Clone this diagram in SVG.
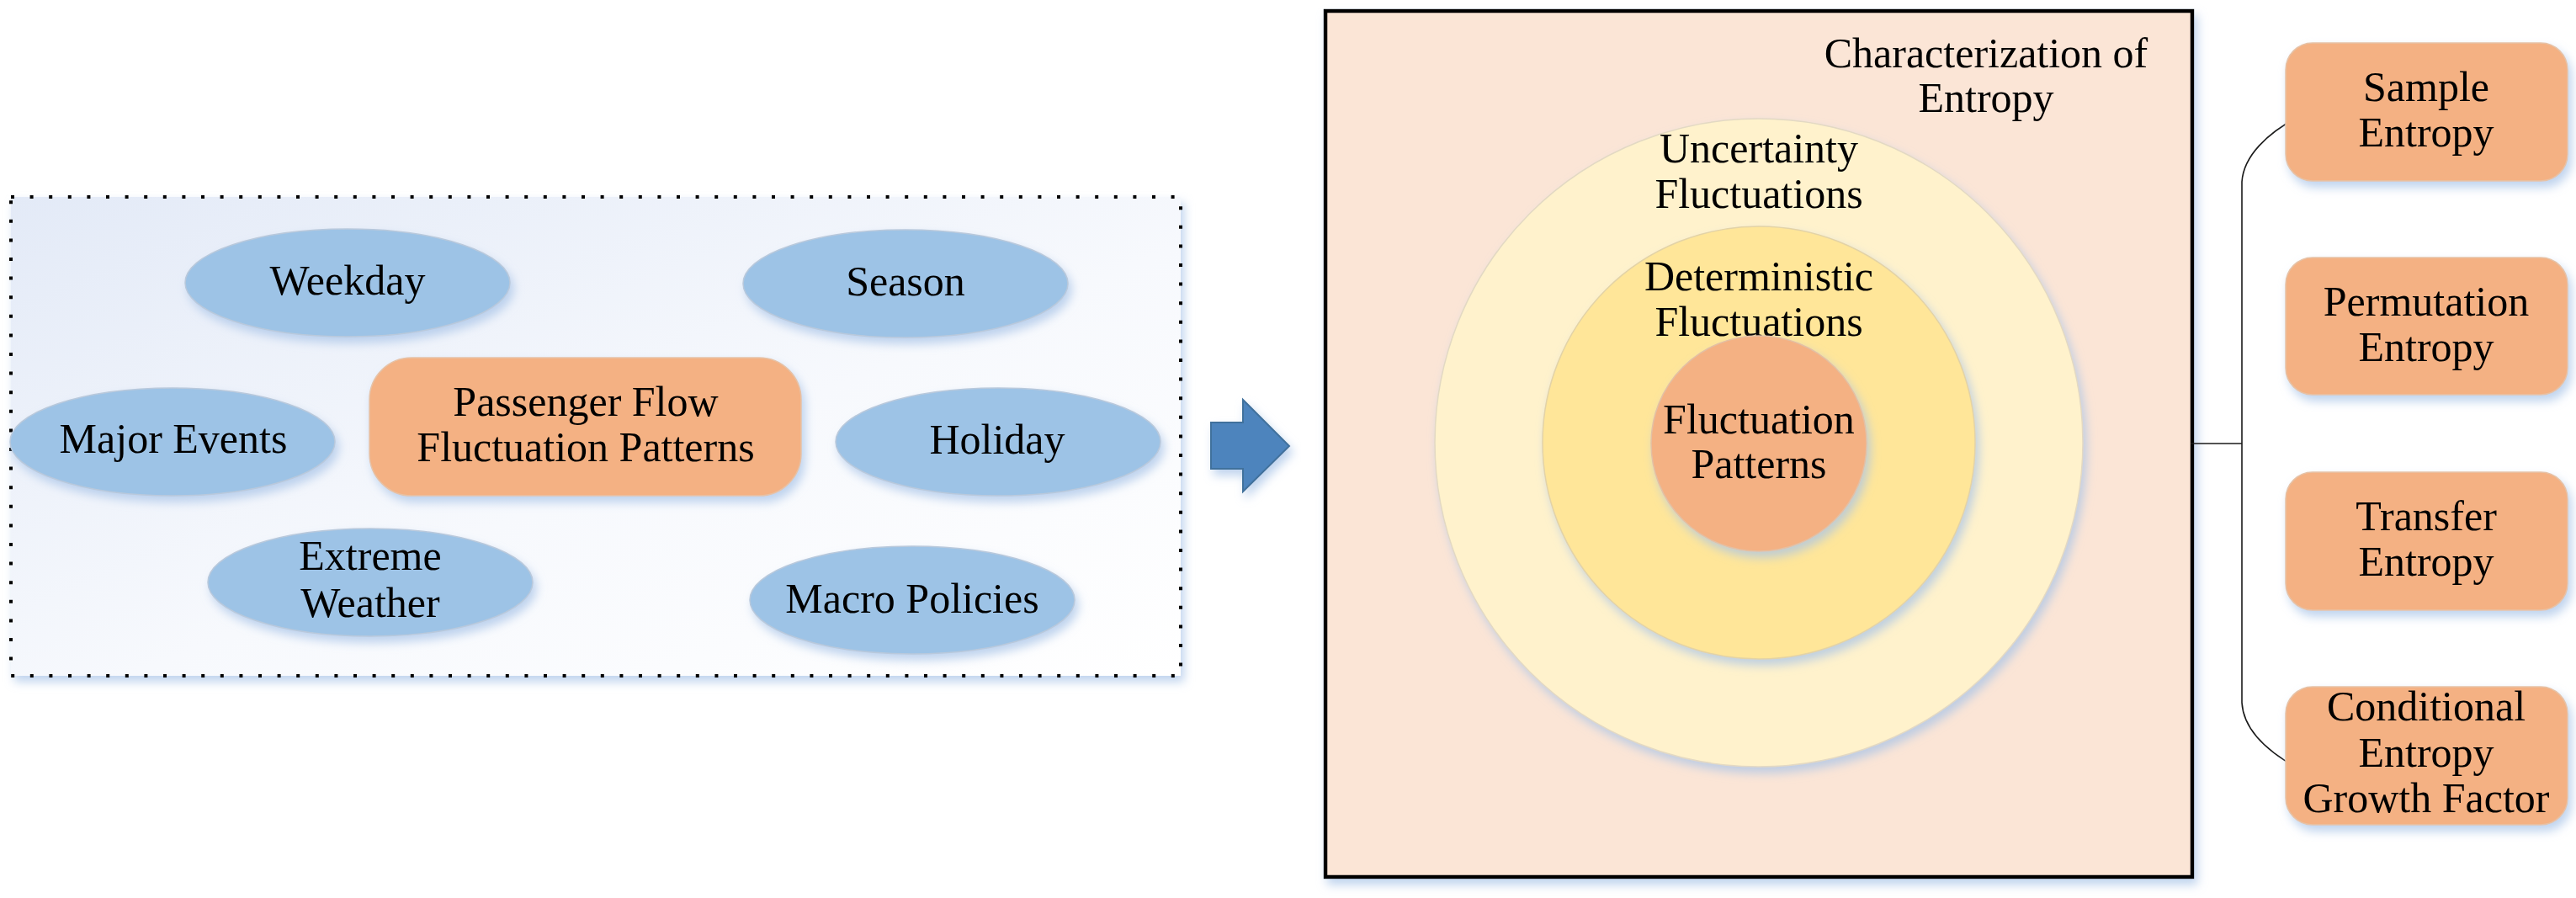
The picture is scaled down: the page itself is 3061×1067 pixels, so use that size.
<svg xmlns="http://www.w3.org/2000/svg" width="3061" height="1067" viewBox="0 0 3061 1067">
<defs>
<linearGradient id="bgGrad" x1="0" y1="0" x2="1" y2="1">
<stop offset="0" stop-color="#e3eaf7"/>
<stop offset="0.55" stop-color="#f7f9fd"/>
<stop offset="1" stop-color="#ffffff"/>
</linearGradient>
<filter id="shadow" x="-10%" y="-10%" width="125%" height="130%">
<feFlood flood-color="#a9c4e8" flood-opacity="0.75" result="c"/>
<feComposite in="c" in2="SourceAlpha" operator="in" result="s"/>
<feOffset in="s" dx="4" dy="7" result="o"/>
<feGaussianBlur in="o" stdDeviation="6" result="b"/>
<feMerge><feMergeNode in="b"/><feMergeNode in="SourceGraphic"/></feMerge>
</filter>
</defs>
<style>
text{font-family:"Liberation Serif","Times New Roman",serif;font-size:50px;fill:#000;text-anchor:middle}
.ell{fill:#9dc3e6;stroke:#b9c9dc;stroke-width:1.5}
.org{fill:#f4b183;stroke:#e6c2a6;stroke-width:1.5}
.con{fill:none;stroke:#1a1a1a;stroke-width:1.6}
</style>
<rect width="3061" height="1067" fill="#ffffff"/>

<g id="factors-panel">
<rect x="13" y="234" width="1390" height="569" fill="url(#bgGrad)" filter="url(#shadow)"/>
<rect x="13" y="234" width="1390" height="569" fill="none" stroke="#000" stroke-width="4" stroke-dasharray="4 18.6"/>
</g>

<g id="weekday"><ellipse class="ell" cx="413" cy="336" rx="193" ry="64" filter="url(#shadow)"/><text x="413" y="350">Weekday</text></g>
<g id="season"><ellipse class="ell" cx="1076" cy="337" rx="193" ry="64" filter="url(#shadow)"/><text x="1076" y="351">Season</text></g>
<g id="major-events"><ellipse class="ell" cx="205" cy="525" rx="193" ry="64" filter="url(#shadow)"/><text x="206" y="538">Major Events</text></g>
<g id="holiday"><ellipse class="ell" cx="1186" cy="525" rx="193" ry="64" filter="url(#shadow)"/><text x="1185" y="539">Holiday</text></g>
<g id="extreme-weather"><ellipse class="ell" cx="440" cy="692" rx="193" ry="64" filter="url(#shadow)"/><text x="440" y="677">Extreme</text><text x="440" y="733">Weather</text></g>
<g id="macro-policies"><ellipse class="ell" cx="1084" cy="713" rx="193" ry="64" filter="url(#shadow)"/><text x="1084" y="728">Macro Policies</text></g>
<g id="passenger-flow"><rect class="org" x="439" y="425" width="513" height="164" rx="50" ry="50" filter="url(#shadow)"/><text x="696" y="494">Passenger Flow</text><text x="696" y="548">Fluctuation Patterns</text></g>

<g id="arrow"><path d="M1439,502 L1477,502 L1477,475 L1532,530 L1477,584 L1477,557 L1439,557 Z" fill="#4d84bd" stroke="#41719c" stroke-width="2" filter="url(#shadow)"/></g>

<g id="entropy-panel">
<rect x="1575" y="13" width="1030" height="1029" fill="#fbe5d6" stroke="#000" stroke-width="4.5" filter="url(#shadow)"/>
<text x="2360" y="80">Characterization of</text>
<text x="2360" y="133">Entropy</text>
</g>
<g id="uncertainty"><circle cx="2090" cy="526" r="385" fill="#fff2cc" stroke="#e3d9c3" stroke-width="1.5" filter="url(#shadow)"/><text x="2090" y="193">Uncertainty</text><text x="2090" y="247">Fluctuations</text></g>
<g id="deterministic"><circle cx="2090" cy="526" r="257" fill="#ffe699" stroke="#e3d3a6" stroke-width="1.5" filter="url(#shadow)"/><text x="2090" y="345">Deterministic</text><text x="2090" y="399">Fluctuations</text></g>
<g id="fluctuation-patterns"><circle cx="2090" cy="527" r="128" fill="#f4b183" stroke="#e3c0a4" stroke-width="1.5" filter="url(#shadow)"/><text x="2090" y="515">Fluctuation</text><text x="2090" y="568">Patterns</text></g>

<g id="connectors">
<path class="con" d="M2603,527 L2664,527"/>
<path class="con" d="M2664,835 L2664,216"/>
<path class="con" d="M2664,216 C2666,185 2695,158 2729,140"/>
<path class="con" d="M2664,835 C2666,868 2695,893 2729,912"/>
</g>

<g id="sample-entropy"><rect class="org" x="2716" y="51" width="335" height="164" rx="32" ry="32" filter="url(#shadow)"/><text x="2883" y="120">Sample</text><text x="2883" y="174">Entropy</text></g>
<g id="permutation-entropy"><rect class="org" x="2716" y="306" width="335" height="163" rx="32" ry="32" filter="url(#shadow)"/><text x="2883" y="375">Permutation</text><text x="2883" y="429">Entropy</text></g>
<g id="transfer-entropy"><rect class="org" x="2716" y="561" width="335" height="164" rx="32" ry="32" filter="url(#shadow)"/><text x="2883" y="630">Transfer</text><text x="2883" y="684">Entropy</text></g>
<g id="conditional-entropy"><rect class="org" x="2716" y="816" width="335" height="164" rx="32" ry="32" filter="url(#shadow)"/><text x="2883" y="856">Conditional</text><text x="2883" y="911">Entropy</text><text x="2883" y="965">Growth Factor</text></g>
</svg>
